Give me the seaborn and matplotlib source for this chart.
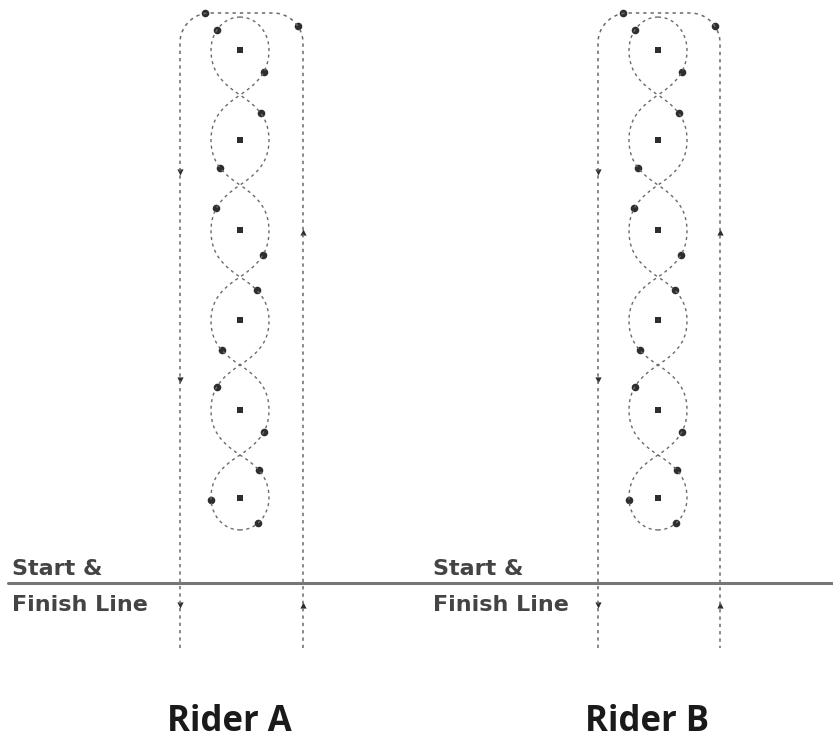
import numpy as np
import pandas as pd
import matplotlib
matplotlib.use("Agg")
import matplotlib.pyplot as plt
import seaborn as sns

# ---- diagram data (pixel-space coordinates of the pattern) ----
rider_names = ["Rider A", "Rider B"]
lane_left_x = [180, 598]
lane_right_x = [303, 720]
loop_center_x = [240, 658]
loop_center_y = [50, 140, 230, 320, 410, 498]
loop_cross_y = [95, 185, 277, 365, 455]
loop_top_y = 17
loop_bottom_y = 530
loop_halfwidth = 29
arena_top_y = 13
lane_bottom_y = 648
corner_radius = 30
finish_line_y = 583
left_lane_arrow_y = [172, 380, 605]
right_lane_arrow_y = [232, 605]
# (y position, side) of the direction marks on the figure-eight loops
loop_mark_y = [30, 72, 113, 168, 208, 255, 290, 350, 387, 432, 470, 500, 523]
loop_mark_side = [-1, 1, 1, -1, -1, 1, 1, -1, -1, 1, 1, -1, 1]
corner_mark_deg = [80, 35]   # left corner, right corner
label_line1 = "Start &"
label_line2 = "Finish Line"
label_x = [12, 433]

sns.set_theme(style="white")
plt.rcParams["font.family"] = ["DejaVu Sans"]

fig = plt.figure(figsize=(8.33, 7.46), dpi=100)
ax = fig.add_axes([0, 0, 1, 1])
ax.set_xlim(0, 833)
ax.set_ylim(746, 0)
ax.axis("off")

LINE = "#6a6a6a"
MARK = "#2e2e2e"
DASH = (0, (2.2, 2.6))
FULL = 0.5


def lobe(s):
    s = np.clip(s, 0, 1)
    return s + FULL * s * (1 - s)


def halfwidth(y):
    bounds = [loop_top_y] + loop_cross_y + [loop_bottom_y]
    w = np.zeros_like(y, dtype=float)
    n = len(loop_center_y)
    for i in range(n):
        a, b, c = bounds[i], bounds[i + 1], loop_center_y[i]
        m = (y >= a) & (y <= b)
        yy = y[m]
        if i == 0:
            w[m] = np.where(yy < c,
                            loop_halfwidth * np.sqrt(np.clip(1 - ((c - yy) / (c - a)) ** 2, 0, 1)),
                            loop_halfwidth * lobe(np.cos(np.pi / 2 * (yy - c) / (b - c))))
        elif i == n - 1:
            w[m] = np.where(yy > c,
                            loop_halfwidth * np.sqrt(np.clip(1 - ((yy - c) / (b - c)) ** 2, 0, 1)),
                            loop_halfwidth * lobe(np.cos(np.pi / 2 * (c - yy) / (c - a))))
        else:
            w[m] = loop_halfwidth * lobe(np.sin(np.pi * (yy - a) / (b - a)))
    return w


yy = np.linspace(loop_top_y, loop_bottom_y, 1200)
ww = halfwidth(yy)

for r in range(len(rider_names)):
    L, R, cx = lane_left_x[r], lane_right_x[r], loop_center_x[r]
    # arena path: left lane up, around the top, right lane down
    th = np.linspace(np.pi, np.pi / 2, 40)
    th2 = np.linspace(np.pi / 2, 0, 40)
    px = np.concatenate([[L], L + corner_radius + corner_radius * np.cos(th),
                         R - corner_radius + corner_radius * np.cos(th2), [R]])
    py = np.concatenate([[lane_bottom_y], arena_top_y + corner_radius - corner_radius * np.sin(th),
                         arena_top_y + corner_radius - corner_radius * np.sin(th2), [lane_bottom_y]])
    path = pd.DataFrame({"x": px, "y": py})
    sns.lineplot(data=path, x="x", y="y", sort=False, estimator=None, ax=ax,
                 color=LINE, lw=1.1, linestyle=DASH)

    # figure-eight chain
    for side in (-1, 1):
        d = pd.DataFrame({"x": cx + side * ww, "y": yy})
        sns.lineplot(data=d, x="x", y="y", sort=False, estimator=None, ax=ax,
                     color=LINE, lw=1.0, linestyle=DASH)

    # loop centres
    sns.scatterplot(x=[cx] * len(loop_center_y), y=loop_center_y, ax=ax,
                    color=MARK, s=22, marker="s", linewidth=0)
    # direction marks on loops
    my = np.array(loop_mark_y, dtype=float)
    mx = cx + np.array(loop_mark_side) * halfwidth(my)
    sns.scatterplot(x=mx, y=my, ax=ax, color=MARK, s=30, linewidth=0)
    # corner marks
    a1 = np.deg2rad(corner_mark_deg[0])
    a2 = np.deg2rad(corner_mark_deg[1])
    cxs = [L + corner_radius - corner_radius * np.cos(a1), R - corner_radius + corner_radius * np.cos(a2)]
    cys = [arena_top_y + corner_radius - corner_radius * np.sin(a1), arena_top_y + corner_radius - corner_radius * np.sin(a2)]
    sns.scatterplot(x=cxs, y=cys, ax=ax, color=MARK, s=30, linewidth=0)
    # lane arrows
    sns.scatterplot(x=[L] * len(left_lane_arrow_y), y=left_lane_arrow_y, ax=ax,
                    color=MARK, s=20, marker="v", linewidth=0)
    sns.scatterplot(x=[R] * len(right_lane_arrow_y), y=right_lane_arrow_y, ax=ax,
                    color=MARK, s=20, marker="^", linewidth=0)

    # labels
    ax.text(label_x[r], finish_line_y - 14, label_line1, fontsize=16, fontweight="bold",
            color="#444444", va="center", ha="left")
    ax.text(label_x[r], finish_line_y + 22, label_line2, fontsize=16, fontweight="bold",
            color="#444444", va="center", ha="left")
    ax.text((L + R) / 2 - 12, 722, rider_names[r], fontsize=25, fontweight="bold",
            family=["Open Sans", "DejaVu Sans"], color="#1a1a1a", va="center", ha="center")

ax.axhline(finish_line_y, xmin=8 / 833, xmax=1, color="#777777", lw=2.2)

fig.savefig("out.png", dpi=100)
